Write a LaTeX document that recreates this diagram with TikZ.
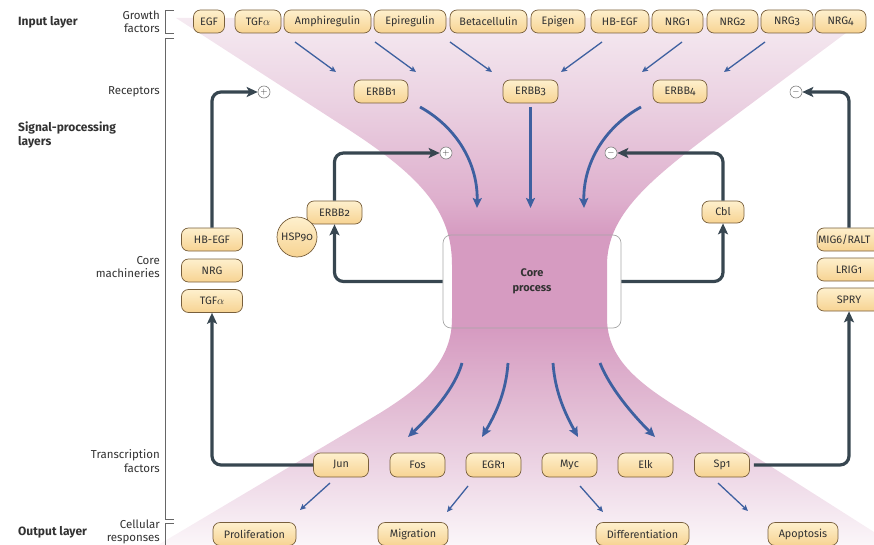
\documentclass[tikz,border=0pt]{standalone}
\usepackage{fontspec}
\setmainfont{Fira Sans}[Numbers=OldStyle]
\usetikzlibrary{arrows.meta,calc}
\definecolor{pk0}{RGB}{251,246,249}
\definecolor{pk1}{RGB}{236,212,228}
\definecolor{pk2}{RGB}{225,185,210}
\definecolor{pk3}{RGB}{214,155,193}
\definecolor{pk4}{RGB}{222,175,205}
\definecolor{pk5}{RGB}{235,210,226}
\definecolor{pk6}{RGB}{245,234,241}
\definecolor{dk}{RGB}{55,70,80}
\definecolor{blu}{RGB}{62,96,160}
\definecolor{nodeT}{RGB}{254,240,205}
\definecolor{nodeB}{RGB}{247,211,146}
\definecolor{nodeD}{RGB}{120,95,60}
\definecolor{txt}{RGB}{50,50,50}
\pgfdeclareverticalshading{hgshade}{100bp}{color(0bp)=(pk0); color(25bp)=(pk0); color(32.5bp)=(pk1); color(38.75bp)=(pk2); color(45.5bp)=(pk3); color(54.5bp)=(pk3); color(57.75bp)=(pk4); color(67.2bp)=(pk5); color(75bp)=(pk6); color(100bp)=(pk6)}
\tikzset{
  pill/.style={draw=nodeD, line width=0.7pt, rounded corners=7pt, top color=nodeT, bottom color=nodeB,
    minimum height=23pt, inner sep=0pt, font=\fontsize{10.8}{12}\selectfont, text=txt},
  ball/.style={draw=nodeD, line width=0.7pt, circle, top color=nodeT, bottom color=nodeB,
    minimum size=40pt, inner sep=0pt, font=\fontsize{10.8}{12}\selectfont, text=txt},
  sign/.style={draw=gray, line width=0.6pt, circle, fill=white, minimum size=12pt, inner sep=0pt,
    font=\fontsize{9}{9}\selectfont, text=txt},
  corebox/.style={draw=gray!70, line width=0.7pt, rounded corners=8pt, minimum width=178pt,
    minimum height=93pt, align=center, font=\bfseries\fontsize{11}{15}\selectfont, text=txt},
  darr/.style={draw=dk, line width=3.2pt, rounded corners=9pt, -{Stealth[length=11pt,width=10pt,inset=2.5pt]}},
  bigarr/.style={draw=blu, line width=2.8pt, -{Stealth[length=10pt,width=9pt,inset=2pt]}},
  thinarr/.style={draw=blu, line width=1.3pt, -{Stealth[length=6pt,width=5.5pt,inset=1.2pt]}},
  brk/.style={draw=gray!80!black, line width=0.6pt},
  lab/.style={font=\fontsize{11.5}{13.5}\selectfont, text=txt, align=right, anchor=east, inner sep=0pt},
  layer/.style={font=\bfseries\fontsize{12}{14}\selectfont, text=txt, align=left, anchor=west, inner sep=0pt}
}
\begin{document}
\begin{tikzpicture}[x=1pt,y=-1pt]
\useasboundingbox (0,0) rectangle (874,545);
% hourglass
\path[shading=hgshade]
  (176,18) -- (340,124) .. controls (420,175) and (452,210) .. (452,265) -- (452,318)
  .. controls (452,360) and (425,385) .. (380,413) -- (158,545) -- (874,545) -- (874,532)
  -- (690,415) .. controls (640,385) and (607,360) .. (607,318) -- (607,265)
  .. controls (607,215) and (650,180) .. (712,133) -- (866,18) -- cycle;
% brackets
\draw[brk] (174,10) -- (165,10) -- (165,33) -- (174,33);
\draw[brk] (174,38) -- (165,38) -- (165,519) -- (174,519);
\draw[brk] (174,523) -- (165,523) -- (165,550);
% labels
\node[layer] (Linput) at (18,22) {Input layer};
\node[layer] (Lsig) at (18,135) {Signal-processing\\layers};
\node[layer] (Lout) at (18,532) {Output layer};
\node[lab] (Lgf) at (160,22) {Growth\\factors};
\node[lab] (Lrec) at (160,92) {Receptors};
\node[lab] (Lcore) at (160,267) {Core\\machineries};
\node[lab] (Ltf) at (160,461) {Transcription\\factors};
\node[lab] (Lcell) at (160,532) {Cellular\\responses};
% core
\node[corebox] (core) at (532,281.5) {Core\\process};
% growth factors
\node[pill, minimum width=31pt] (egf) at (209,21.5) {EGF};
\node[pill, minimum width=46pt] (tgfa) at (258,21.5) {TGF$\alpha$};
\node[pill, minimum width=87pt] (amph) at (327.5,21.5) {Amphiregulin};
\node[pill, minimum width=72pt] (epir) at (410,21.5) {Epiregulin};
\node[pill, minimum width=77pt] (btc) at (488.5,21.5) {Betacellulin};
\node[pill, minimum width=54pt] (epig) at (558,21.5) {Epigen};
\node[pill, minimum width=58pt] (hbegfT) at (620,21.5) {HB-EGF};
\node[pill, minimum width=51pt] (nrg1) at (677.5,21.5) {NRG1};
\node[pill, minimum width=51pt] (nrg2) at (732.5,21.5) {NRG2};
\node[pill, minimum width=52pt] (nrg3) at (787,21.5) {NRG3};
\node[pill, minimum width=51pt] (nrg4) at (840.5,21.5) {NRG4};
% receptors
\node[pill, minimum width=54pt] (erbb1) at (381,91.5) {ERBB1};
\node[pill, minimum width=55pt] (erbb3) at (530.5,91.5) {ERBB3};
\node[pill, minimum width=54pt] (erbb4) at (680,91.5) {ERBB4};
% signs
\node[sign] (plusA) at (264,92) {$+$};
\node[sign] (minusA) at (796,92) {$-$};
\node[sign] (plusB) at (446,153) {$+$};
\node[sign] (minusB) at (611,153) {$-$};
% core machineries
\node[pill, minimum width=61pt] (hbegf) at (212,239.5) {HB-EGF};
\node[pill, minimum width=61pt] (nrg) at (212,270.5) {NRG};
\node[pill, minimum width=61pt] (tgfa2) at (212,301) {TGF$\alpha$};
\node[pill, minimum width=55pt] (erbb2) at (334.5,212.5) {ERBB2};
\node[ball] (hsp) at (297,237) {HSP90};
\node[pill, minimum width=42pt, minimum height=22pt] (cbl) at (723,212) {Cbl};
\node[pill, minimum width=64pt, text width=62pt, align=left] (mig6) at (849,239.5) {MIG6/RALT};
\node[pill, minimum width=64pt] (lrig1) at (849,269.5) {LRIG1};
\node[pill, minimum width=64pt] (spry) at (849,299.5) {SPRY};
% transcription factors
\node[pill, minimum width=55pt, minimum height=24pt] (jun) at (341,465) {Jun};
\node[pill, minimum width=55pt, minimum height=24pt] (fos) at (417.5,465) {Fos};
\node[pill, minimum width=55pt, minimum height=24pt] (egr1) at (493.5,465) {EGR1};
\node[pill, minimum width=55pt, minimum height=24pt] (myc) at (569.5,465) {Myc};
\node[pill, minimum width=55pt, minimum height=24pt] (elk) at (645.5,465) {Elk};
\node[pill, minimum width=55pt, minimum height=24pt] (sp1) at (722,465) {Sp1};
% responses
\node[pill, minimum width=83pt] (prolif) at (254.5,534) {Proliferation};
\node[pill, minimum width=70pt] (migr) at (413,534) {Migration};
\node[pill, minimum width=93pt] (diff) at (642.5,534) {Differentiation};
\node[pill, minimum width=70pt] (apop) at (803,534) {Apoptosis};
% feedback loops
\draw[darr] (hbegf.north) |- (plusA.west);
\draw[darr] (jun.west) -| (tgfa2.south);
\draw[darr] (erbb2.north) |- (plusB.west);
\draw[darr] (core.west) -| (erbb2.south);
\draw[darr] (cbl.north) |- (minusB.east);
\draw[darr] (core.east) -| (cbl.south);
\draw[darr] (mig6.north) |- (minusA.east);
\draw[darr] ([xshift=4pt]sp1.east) -| (spry.south);
% thin arrows ligand -> receptor, TF -> response
\foreach \n/\a/\b/\c/\d in {a1/295/42/336/72, a2/375/42/416/72, a3/450/42/492/72,
   a4/602/42/561/72, a5/682/42/642/72, a6/765/42/724/72,
   r1/330/483/300/510, r2/468/486/447/512, r3/580/486/603/512, r4/718/483/748/511}{
  \coordinate (\n s) at (\a,\b); \coordinate (\n e) at (\c,\d);
  \draw[thinarr] (\n s) -- (\n e);
}
% receptor -> core
\coordinate (b1s) at (420,107); \coordinate (b1e) at (477,208);
\coordinate (b3s) at (530.5,107); \coordinate (b3e) at (530.5,208);
\coordinate (b4s) at (641,107); \coordinate (b4e) at (584,208);
\draw[bigarr] (b1s) .. controls (458,128) and (478,165) .. (b1e);
\draw[bigarr] (b3s) -- (b3e);
\draw[bigarr] (b4s) .. controls (603,128) and (583,165) .. (b4e);
% core -> transcription factors
\coordinate (c1s) at (462,363); \coordinate (c1e) at (408,437);
\coordinate (c2s) at (508,363); \coordinate (c2e) at (482,437);
\coordinate (c3s) at (553,363); \coordinate (c3e) at (578,437);
\coordinate (c4s) at (600,363); \coordinate (c4e) at (655,437);
\draw[bigarr] (c1s) .. controls (455,388) and (432,414) .. (c1e);
\draw[bigarr] (c2s) .. controls (506,393) and (495,415) .. (c2e);
\draw[bigarr] (c3s) .. controls (555,393) and (566,415) .. (c3e);
\draw[bigarr] (c4s) .. controls (610,388) and (632,414) .. (c4e);
\end{tikzpicture}
\end{document}
